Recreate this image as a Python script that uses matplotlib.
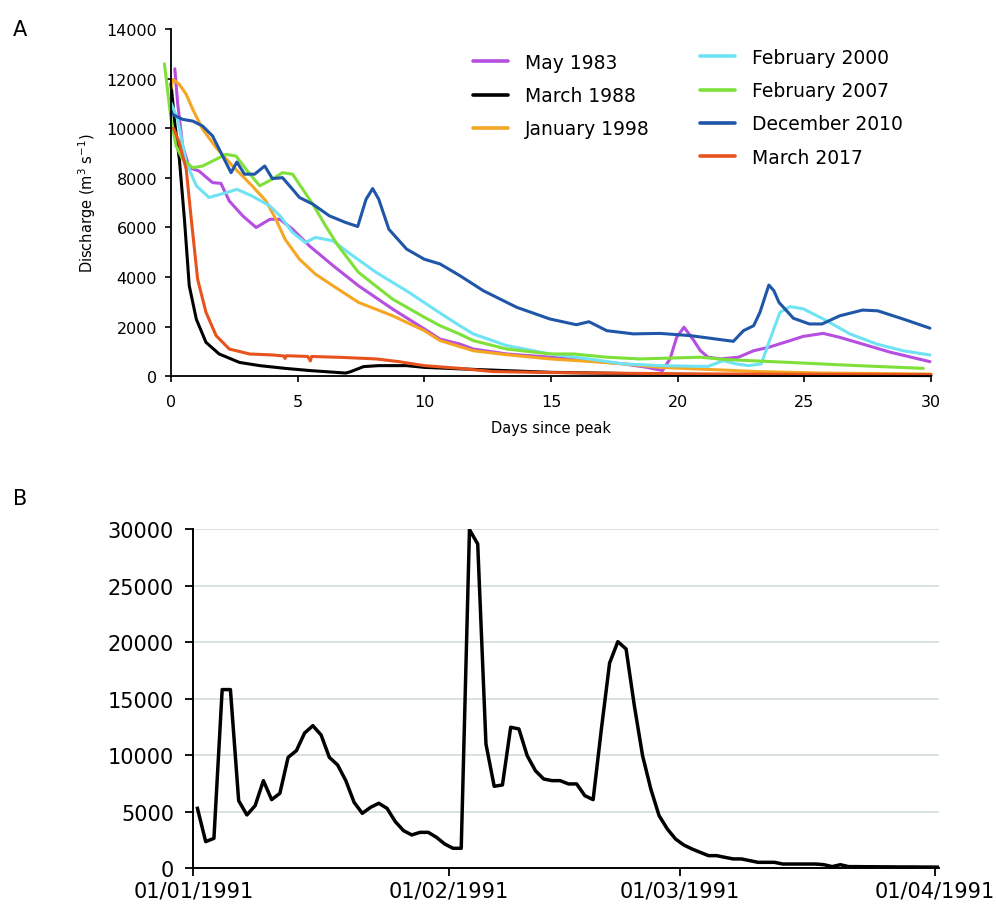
#Recession curves after peak discharge (A) and daily discharge for early 1991 (B)

import numpy as np
import pandas as pd
import matplotlib
matplotlib.use('Agg')
import matplotlib.pyplot as plt
import matplotlib.dates as mdates

##Panel A data: days since peak and discharge (m3/s)
may83_d = [0.15, 0.26, 0.46, 0.72, 1.1, 1.64, 1.97, 2.3, 2.83, 3.36, 3.9, 4.3, 4.8, 5.46, 6.4, 7.4, 8.75, 10,
           10.62, 11.4, 11.93, 13.25, 14.96, 16.5, 17.86, 18.8, 19.4, 19.7, 19.96, 20.25, 20.6, 20.9, 21.2,
           21.7, 22.4, 23.0, 23.6, 24.44, 24.96, 25.75, 26.4, 27.3, 28.4, 29.96]
may83_q = [12400, 11030, 9290, 8410, 8280, 7810, 7780, 7070, 6470, 6000, 6330, 6330, 5930, 5260, 4460, 3650,
           2710, 1910, 1500, 1300, 1100, 900, 770, 630, 500, 360, 230, 700, 1570, 1980, 1500, 1030, 770,
           700, 770, 1030, 1170, 1440, 1610, 1730, 1570, 1300, 970, 590]

mar88_d = [0, 0.15, 0.33, 0.53, 0.72, 1.0, 1.38, 1.9, 2.7, 3.5, 4.5, 5.5, 6.9, 7.1, 7.6, 8.2, 9.3, 10, 11.4,
           15, 20, 25, 30]
mar88_q = [11800, 10200, 8750, 6330, 3650, 2300, 1370, 900, 560, 430, 320, 230, 130, 190, 390, 430, 430, 360,
           300, 160, 80, 40, 30]

jan98_d = [0, 0.07, 0.33, 0.6, 0.86, 1.25, 1.78, 2.43, 3.2, 3.75, 4.14, 4.5, 5.07, 5.7, 6.5, 7.4, 8.75, 10,
           10.62, 11.93, 13.25, 14.96, 16.5, 17.86, 19.3, 20.9, 23.2, 25.75, 30]
jan98_q = [11600, 11970, 11770, 11370, 10760, 9960, 9220, 8480, 7680, 7070, 6330, 5530, 4720, 4120, 3580,
           2980, 2440, 1840, 1440, 1030, 870, 700, 600, 500, 360, 290, 190, 130, 90]

feb00_d = [0, 0.26, 0.6, 1.0, 1.5, 2.2, 2.6, 3.2, 3.9, 4.3, 4.8, 5.3, 5.7, 6.4, 7.0, 8.1, 9.4, 10.62, 11.4,
           11.93, 13.25, 14.96, 16.5, 17.86, 19.3, 20.9, 21.2, 21.8, 22.3, 22.8, 23.3, 23.65, 24.04, 24.44,
           24.96, 25.75, 26.8, 27.86, 28.9, 29.96]
feb00_q = [11030, 10360, 8620, 7680, 7210, 7410, 7540, 7270, 6870, 6470, 5800, 5390, 5600, 5460, 4990, 4190,
           3380, 2550, 2040, 1710, 1240, 900, 700, 500, 430, 400, 400, 630, 500, 430, 500, 1500, 2580, 2810,
           2720, 2310, 1710, 1300, 1030, 860]

feb07_d = [-0.26, 0, 0.2, 0.46, 0.86, 1.25, 1.64, 2.17, 2.57, 2.96, 3.5, 4.0, 4.4, 4.8, 5.2, 5.6, 6.1, 6.6,
           7.4, 8.75, 10, 10.62, 11.4, 11.93, 13.25, 14.96, 15.9, 17.2, 18.5, 20.9, 21.8, 24.4, 27.1, 29.7]
feb07_q = [12600, 10360, 9290, 8750, 8410, 8480, 8680, 8950, 8880, 8350, 7680, 7950, 8210, 8150, 7540, 6940,
           6070, 5260, 4190, 3110, 2380, 2040, 1700, 1440, 1100, 900, 900, 770, 700, 770, 680, 560, 430, 320]

dec10_d = [0, 0.46, 0.86, 1.25, 1.64, 2.04, 2.37, 2.6, 2.9, 3.3, 3.7, 4.0, 4.4, 4.74, 5.07, 5.6, 6.25, 6.9,
           7.37, 7.7, 7.96, 8.2, 8.6, 9.3, 10, 10.62, 11.4, 12.33, 13.65, 14.96, 16.0, 16.5, 17.2, 18.25,
           19.3, 20.5, 22.2, 22.6, 23.0, 23.25, 23.6, 23.8, 24.0, 24.57, 25.2, 25.7, 26.4, 27.3, 27.9, 28.9,
           29.96]
dec10_q = [10590, 10360, 10290, 10090, 9690, 8880, 8210, 8640, 8150, 8150, 8480, 7970, 8010, 7610, 7210,
           6940, 6470, 6200, 6040, 7140, 7570, 7140, 5930, 5130, 4720, 4530, 4060, 3450, 2780, 2310, 2080,
           2200, 1840, 1710, 1730, 1640, 1410, 1840, 2040, 2580, 3680, 3450, 2980, 2340, 2110, 2110, 2440,
           2670, 2640, 2310, 1940]

mar17_d = [0.1, 0.3, 0.6, 0.8, 1.05, 1.38, 1.78, 2.3, 3.1, 4.0, 4.45, 4.5, 4.55, 5.4, 5.5, 5.55, 6.8, 8.1,
           9.0, 10, 11.4, 12.7, 15, 20, 25, 30]
mar17_q = [10000, 9500, 8350, 6330, 3920, 2580, 1640, 1100, 900, 860, 820, 720, 830, 800, 620, 800, 760, 700,
           590, 430, 320, 190, 150, 100, 80, 70]

labels_a = ['May 1983', 'March 1988', 'January 1998', 'February 2000', 'February 2007',
            'December 2010', 'March 2017']
colors_a = ['#b64ee0', '#000000', '#f5a623', '#6fe3f4', '#7fe03a', '#1f56a8', '#e8521d']

##Panel B data: daily discharge from 01/01/1991
jan91 = [5300, 2360, 2650, 15800, 15800, 5980, 4720, 5540, 7750, 6070, 6630, 9810, 10400, 11960, 12610,
         11790, 9810, 9140, 7750, 5840, 4860, 5390, 5750, 5300, 4130, 3330, 2950, 3180, 3180, 2740, 2150]
feb91 = [1770, 1770, 29940, 28670, 10990, 7250, 7370, 12470, 12320, 9960, 8630, 7900, 7750, 7750, 7460,
         7460, 6420, 6070, 12300, 18150, 20040, 19390, 14380, 9960, 7010, 4660, 3480, 2590]
mar91 = [2060, 1710, 1410, 1120, 1120, 970, 830, 830, 680, 530, 530, 530, 380, 380, 380, 380, 380, 320,
         150, 320, 150, 150, 140, 140, 130, 130, 120, 120, 120, 110, 110]
apr91 = [100]

q91 = jan91 + feb91 + mar91 + apr91
dates91 = pd.date_range('1991-01-01 12:00', periods=len(q91), freq='D')

plt.rcParams['font.family'] = 'DejaVu Sans'

fig = plt.figure(figsize=(9.96, 9.12), dpi=100)

#Panel A
axA = fig.add_axes([0.1717, 0.5863, 0.7630, 0.3807])
series = [(may83_d, may83_q), (mar88_d, mar88_q), (jan98_d, jan98_q), (feb00_d, feb00_q),
          (feb07_d, feb07_q), (dec10_d, dec10_q), (mar17_d, mar17_q)]
handles = []
for (d, q), lab, col in zip(series, labels_a, colors_a):
    h, = axA.plot(d, q, color=col, lw=2.2, label=lab, clip_on=False, solid_capstyle='round')
    handles.append(h)

axA.set_xlim(0, 30)
axA.set_ylim(0, 14000)
axA.set_xticks(np.arange(0, 31, 5))
axA.set_yticks(np.arange(0, 14001, 2000))
axA.spines['top'].set_visible(False)
axA.spines['right'].set_visible(False)
for s in ['left', 'bottom']:
    axA.spines[s].set_linewidth(1.3)
axA.tick_params(direction='out', length=4, width=1.2, labelsize=11.5)
axA.tick_params(axis='x', pad=9)
axA.tick_params(axis='y', pad=6)
axA.set_xlabel('Days since peak', fontsize=10.5, labelpad=8)
axA.set_ylabel('Discharge (m$^3$ s$^{-1}$)', fontsize=10.5, labelpad=6)

#two legend columns: 3 entries then 4 entries
leg1 = fig.legend(handles[:3], labels_a[:3], loc='upper left', bbox_to_anchor=(0.4749, 0.9408),
                  frameon=False, fontsize=13.5, handlelength=1.85, handletextpad=0.9,
                  labelspacing=0.76, borderpad=0, borderaxespad=0)
leg2 = fig.legend(handles[3:], labels_a[3:], loc='upper left', bbox_to_anchor=(0.7028, 0.9463),
                  frameon=False, fontsize=13.5, handlelength=1.85, handletextpad=0.9,
                  labelspacing=0.76, borderpad=0, borderaxespad=0)
for lg in (leg1, leg2):
    for ln in lg.get_lines():
        ln.set_linewidth(2.6)

#Panel B
axB = fig.add_axes([0.1941, 0.0468, 0.7490, 0.3721])
axB.plot(dates91, q91, color='black', lw=2.5)
axB.set_xlim(pd.Timestamp('1991-01-01'), pd.Timestamp('1991-04-01 12:00'))
axB.set_ylim(0, 30000)
axB.set_yticks(np.arange(0, 30001, 5000))
axB.xaxis.set_major_locator(mdates.MonthLocator())
axB.xaxis.set_major_formatter(mdates.DateFormatter('%d/%m/%Y'))
axB.grid(axis='y', color='#d6dede', lw=1.3)
axB.set_axisbelow(True)
axB.spines['top'].set_visible(False)
axB.spines['right'].set_visible(False)
for s in ['left', 'bottom']:
    axB.spines[s].set_linewidth(1.4)
axB.tick_params(direction='out', length=6, width=1.3, labelsize=15)
axB.tick_params(axis='y', pad=8)
axB.tick_params(axis='x', pad=3)

#panel letters
fig.text(0.013, 0.967, 'A', fontsize=15, va='center')
fig.text(0.013, 0.453, 'B', fontsize=15, va='center')

plt.savefig('out.png', dpi=100)
